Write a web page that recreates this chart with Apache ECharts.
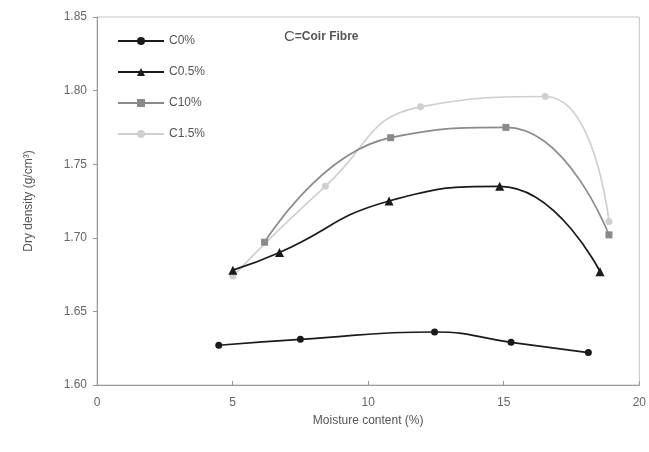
<!DOCTYPE html>
<html>
<head>
<meta charset="utf-8">
<script src="https://cdn.jsdelivr.net/npm/echarts@6/dist/echarts.min.js"></script>
<style>html,body{margin:0;padding:0;background:#fff}#c{width:649px;height:452px}</style>
</head>
<body>
<div id="c"></div>
<script>
const seriesNames = ['C0%', 'C0.5%', 'C10%', 'C1.5%'];
const c0x = [4.49, 7.5, 12.45, 15.27, 18.12];
const c0y = [1.627, 1.631, 1.636, 1.629, 1.622];
const c05x = [5.01, 6.73, 10.77, 14.85, 18.55];
const c05y = [1.678, 1.690, 1.725, 1.735, 1.677];
const c10x = [6.18, 10.83, 15.08, 18.88];
const c10y = [1.697, 1.768, 1.775, 1.702];
const c15x = [5.01, 8.42, 11.93, 16.53, 18.88];
const c15y = [1.674, 1.735, 1.789, 1.796, 1.711];
const xTicks = [0, 5, 10, 15, 20];
const yTicks = [1.60, 1.65, 1.70, 1.75, 1.80, 1.85];

const pairs = (xs, ys) => xs.map((x, i) => [x, ys[i]]);
const lineColors = ['#1a1a1a', '#1a1a1a', '#8a8a8a', '#cfcfcf'];
const symbols = ['circle', 'triangle', 'rect', 'circle'];
const symbolSizes = [7, 9, 7, 7];
const datas = [pairs(c0x, c0y), pairs(c05x, c05y), pairs(c10x, c10y), pairs(c15x, c15y)];

const chart = echarts.init(document.getElementById('c'), null, {renderer: 'canvas'});
chart.setOption({
  animation: false,
  backgroundColor: '#fff',
  grid: {left: 97, right: 8, top: 17, bottom: 67, show: true, borderColor: '#c4c4c4', borderWidth: 1},
  legend: {
    orient: 'vertical', left: 112, top: 30, itemWidth: 46, itemHeight: 10, itemGap: 19,
    data: seriesNames,
    textStyle: {color: '#555', fontSize: 12, fontFamily: 'Liberation Sans, Arial, sans-serif'}
  },
  graphic: [{
    type: 'text', left: 284, top: 29,
    style: {
      text: '{a|C}{b|=Coir Fibre}',
      rich: {
        a: {fontSize: 15, fill: '#555', fontFamily: 'Liberation Sans, Arial, sans-serif'},
        b: {fontSize: 12, fontWeight: 'bold', fill: '#555', fontFamily: 'Liberation Sans, Arial, sans-serif'}
      }
    }
  }],
  xAxis: {
    type: 'value', min: 0, max: 20, interval: 5,
    name: 'Moisture content (%)', nameLocation: 'middle', nameGap: 30,
    nameTextStyle: {color: '#555', fontSize: 12, fontFamily: 'Liberation Sans, Arial, sans-serif'},
    axisLine: {lineStyle: {color: '#999'}},
    axisTick: {show: true, inside: true, length: 4, lineStyle: {color: '#999'}},
    axisLabel: {color: '#666', fontSize: 12, margin: 12, fontFamily: 'Liberation Sans, Arial, sans-serif',
      formatter: v => xTicks.includes(v) ? String(v) : ''},
    splitLine: {show: false}
  },
  yAxis: {
    type: 'value', min: 1.60, max: 1.85, interval: 0.05,
    name: 'Dry density (g/cm³)', nameLocation: 'middle', nameGap: 62,
    nameTextStyle: {color: '#555', fontSize: 12, fontFamily: 'Liberation Sans, Arial, sans-serif'},
    axisLine: {show: true, lineStyle: {color: '#999'}},
    axisTick: {show: true, length: 4, lineStyle: {color: '#999'}},
    axisLabel: {color: '#666', fontSize: 12, margin: 10, fontFamily: 'Liberation Sans, Arial, sans-serif',
      formatter: v => { const t = yTicks.find(y => Math.abs(y - v) < 1e-6); return t !== undefined ? t.toFixed(2) : ''; }},
    splitLine: {show: false}
  },
  series: seriesNames.map((n, i) => ({
    name: n, type: 'line', data: datas[i], smooth: 0.5,
    symbol: symbols[i], symbolSize: symbolSizes[i], showSymbol: true,
    lineStyle: {color: lineColors[i], width: 1.7},
    itemStyle: {color: lineColors[i]},
    z: 10 - i
  }))
});
</script>
</body>
</html>
